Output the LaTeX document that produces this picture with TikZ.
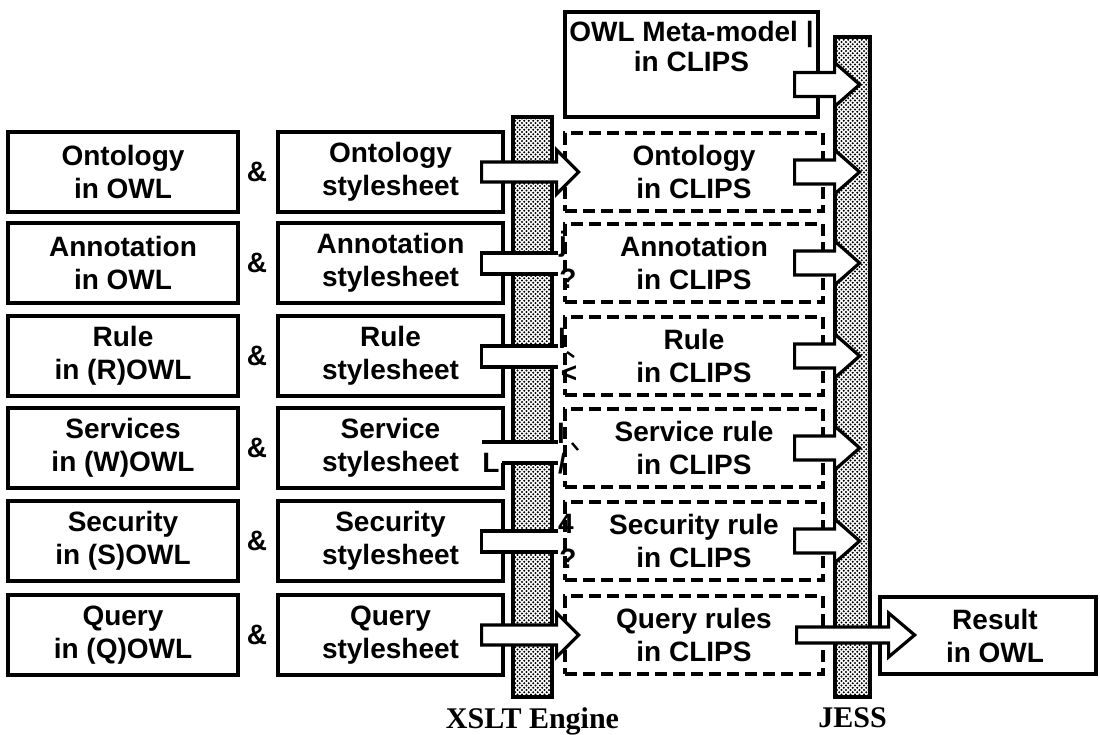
\documentclass[tikz,border=0pt]{standalone}
\usepackage{fontspec}
\setmainfont{Liberation Serif}
\setsansfont{Liberation Sans}
\usetikzlibrary{positioning,calc,patterns}

\pgfdeclarepatternformonly{enginedots}{\pgfqpoint{-1.5pt}{-1.5pt}}{\pgfqpoint{4pt}{4pt}}{\pgfqpoint{4.5pt}{4.5pt}}{%
  \pgfpathcircle{\pgfqpoint{0pt}{0pt}}{1.2pt}%
  \pgfpathcircle{\pgfqpoint{2.25pt}{2.25pt}}{1.2pt}%
  \pgfusepath{fill}}

\tikzset{
  boxtext/.style={font=\sffamily\bfseries\fontsize{28}{33}\selectfont, align=center, inner sep=0pt},
  solidbox/.style={boxtext, draw, line width=3.2pt, minimum height=80pt},
  clipsbox/.style={boxtext, draw, line width=3.2pt, dash pattern=on 12pt off 6pt,
    minimum width=258pt, minimum height=78pt},
  enginebar/.style={draw, line width=3.2pt, preaction={fill=white}, pattern=enginedots},
  enginelabel/.style={font=\rmfamily\bfseries\fontsize{30}{34}\selectfont, inner sep=0pt},
  blockarrow/.style={draw, fill=white, line width=3.2pt},
  ocrmark/.style={boxtext, anchor=base}
}

\begin{document}
\begin{tikzpicture}[x=1pt,y=-1pt]
  \useasboundingbox (0,0) rectangle (1100,735);

  % inputs, stylesheets and their CLIPS output
  \foreach \i/\yy/\src/\sty/\clp in {
      1/172/{Ontology\\in OWL}/{Ontology\\stylesheet}/{Ontology\\in CLIPS},
      2/263/{Annotation\\in OWL}/{Annotation\\stylesheet}/{Annotation\\in CLIPS},
      3/356/{Rule\\in (R)OWL}/{Rule\\stylesheet}/{Rule\\in CLIPS},
      4/448/{Services\\in (W)OWL}/{Service\\stylesheet}/{Service rule\\in CLIPS},
      5/541/{Security\\in (S)OWL}/{Security\\stylesheet}/{Security rule\\in CLIPS},
      6/635/{Query\\in (Q)OWL}/{Query\\stylesheet}/{Query rules\\in CLIPS}} {
    \node[solidbox, minimum width=230pt] (src\i) at (123,\yy) {\src};
    \node[boxtext] (amp\i) at (257,\yy) {\&};
    \node[solidbox, minimum width=225pt] (sty\i) at (390.5,\yy) {\sty};
    \node[clipsbox] (clp\i) at (694,\yy) {\clp};
  }

  \node[solidbox, minimum width=253pt, minimum height=105pt] (meta) at (691.5,64.5) {};
  \node[boxtext, anchor=north, below=11pt of meta.north] (metatext) {OWL Meta-model |\\[-3pt]in CLIPS};
  \node[solidbox, minimum width=216pt, minimum height=77pt] (res) at (988,635.5) {};
  \node[boxtext] (restext) at ($(res.center)+(7,0)$) {Result\\in OWL};

  % engines
  \node[enginebar, minimum width=39pt, minimum height=580pt] (xslt) at (532.5,407) {};
  \node[enginebar, minimum width=35pt, minimum height=660pt] (jess) at (852.5,367) {};
  \node[enginelabel, below=9pt of xslt] (xsltlabel) {XSLT Engine};
  \node[enginelabel, below=9pt of jess] (jesslabel) {JESS};

  % XSLT arrows
  \foreach \i in {1,6}
    \draw[blockarrow] ($(sty\i.east)+(-23,-10)$) -- ++(75,0) -- ++(0,-12) -- ++(22,22)
      -- ++(-22,22) -- ++(0,-12) -- ++(-75,0) -- cycle;
  \foreach \i in {2,3,5} {
    \fill[white] ($(sty\i.east)+(-23,-10)$) rectangle ++(76,21);
    \draw[line width=3.2pt] ($(sty\i.east)+(53,-10)$) -| ++(-76,21) -- ++(76,0);
  }
  \fill[white] ($(sty4.east)+(-23,-6)$) rectangle ++(76,21);
  \draw[line width=3.2pt] ($(sty4.east)+(53,-6)$) -- ++(-76,0);
  \draw[line width=3.2pt] ($(sty4.east)+(-3,15)$) -- ++(56,0);

  % what is left of the arrow heads
  \node[ocrmark] (m2a) at (563,252) {j};
  \node[ocrmark] (m2b) at (568,288) {?};
  \node[ocrmark] (m3a) at (562,348) {l};
  \node[ocrmark] (m3b) at (569,382) {<};
  \node[ocrmark] (m4a) at (561,443) {l};
  \node[ocrmark] (m4b) at (562,473) {/};
  \node[ocrmark] (m4c) at (491,472) {L};
  \node[ocrmark] (m5a) at (566,533) {4};
  \node[ocrmark] (m5b) at (568,568) {?};
  \draw[line width=2.4pt] (567,352) -- (574,357);
  \draw[line width=2.4pt] (572,443) -- (578,450);

  % JESS arrows
  \draw[blockarrow] ($(meta.east)+(-25,8)$) -- ++(40,0) -- ++(0,-10) -- ++(25,22)
    -- ++(-25,22) -- ++(0,-10) -- ++(-40,0) -- cycle;
  \foreach \i in {1,...,5}
    \draw[blockarrow] ($(clp\i.east)+(-30,-12)$) -- ++(40,0) -- ++(0,-10) -- ++(25,22)
      -- ++(-25,22) -- ++(0,-10) -- ++(-40,0) -- cycle;
  \draw[blockarrow] ($(clp6.east)+(-28,-8)$) -- ++(92,0) -- ++(0,-14) -- ++(26,22)
    -- ++(-26,22) -- ++(0,-14) -- ++(-92,0) -- cycle;
\end{tikzpicture}
\end{document}
